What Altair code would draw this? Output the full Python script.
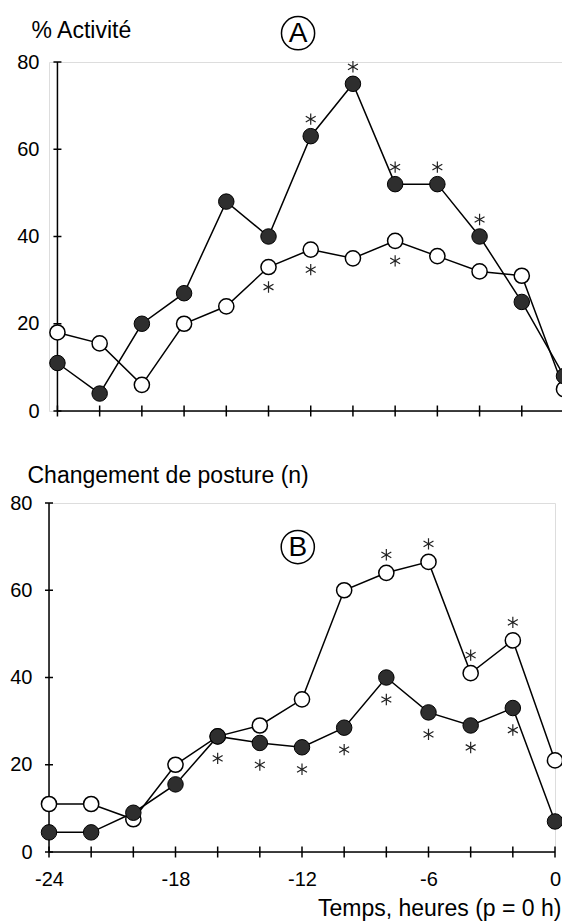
import altair as alt
import pandas as pd

# ---- data ----
hours = [-24, -22, -20, -18, -16, -14, -12, -10, -8, -6, -4, -2, 0]
a_filled = [11, 4, 20, 27, 48, 40, 63, 75, 52, 52, 40, 25, 8]
a_open = [18, 15.5, 6, 20, 24, 33, 37, 35, 39, 35.5, 32, 31, 5]
b_open = [11, 11, 7.5, 20, 26.5, 29, 35, 60, 64, 66.5, 41, 48.5, 21]
b_filled = [4.5, 4.5, 9, 15.5, 26.5, 25, 24, 28.5, 40, 32, 29, 33, 7]

# significance stars (hours)
a_filled_stars = [-12, -10, -8, -6, -4]          # above filled points
a_open_stars = [-14, -12, -8]                    # below open points
b_open_stars = [-8, -6, -4, -2]                  # above open points
b_filled_stars = [-16, -14, -12, -10, -8, -6, -4, -2]  # below filled points

y_ticks = [0, 20, 40, 60, 80]
x_label_values = [-24, -18, -12, -6, 0]

FONT = "Liberation Sans"
STAR = "M0,-1L0,1M-0.87,-0.5L0.87,0.5M-0.87,0.5L0.87,-0.5"


def series_df(vals):
    return pd.DataFrame({"x": hours, "y": vals})


def star_df(vals, star_hours):
    lookup = dict(zip(hours, vals))
    return pd.DataFrame({"x": star_hours, "y": [lookup[h] for h in star_hours]})


def panel(filled, opn, fstars, fdy, ostars, ody, letter, letter_xy,
          xdomain, width, ytitle, ytx, yty, lpad, xaxis):
    xs = alt.Scale(domain=xdomain, nice=False, zero=False)
    ys = alt.Scale(domain=[0, 80], nice=False, zero=False)
    yaxis = alt.Axis(values=y_ticks, domain=False, ticks=False, grid=False,
                     labelFont=FONT, labelFontSize=20, labelColor="black",
                     labelPadding=lpad, labelExpr="datum.value + ''",
                     title=ytitle, titleAngle=0, titleAlign="left",
                     titleBaseline="alphabetic", titleX=ytx, titleY=yty,
                     titleFont=FONT, titleFontSize=23, titleFontWeight="normal",
                     titleColor="black")
    X = alt.X("x:Q", scale=xs, axis=xaxis)
    Y = alt.Y("y:Q", scale=ys, axis=yaxis)
    X2 = alt.X2("x2:Q")
    Y2 = alt.Y2("y2:Q")

    axis_x = alt.Chart(pd.DataFrame({"x": [-24], "x2": [0], "y": [0]})).mark_rule(
        color="black", strokeWidth=1.5).encode(x=X, x2=X2, y=Y)
    axis_y = alt.Chart(pd.DataFrame({"x": [-24], "y": [0], "y2": [80]})).mark_rule(
        color="black", strokeWidth=1.5).encode(x=X, y=Y, y2=Y2)
    xt = alt.Chart(pd.DataFrame({"x": hours, "y": [0] * len(hours)})).mark_tick(
        orient="vertical", size=11, thickness=1.5, color="black", opacity=1).encode(x=X, y=Y)
    yt = alt.Chart(pd.DataFrame({"x": [-24] * len(y_ticks), "y": y_ticks})).mark_tick(
        orient="horizontal", size=8, thickness=1.5, color="black", opacity=1).encode(x=X, y=Y)

    o_line = alt.Chart(series_df(opn)).mark_line(color="black", strokeWidth=1.5).encode(x=X, y=Y)
    o_pts = alt.Chart(series_df(opn)).mark_point(
        shape="circle", size=230, filled=True, fill="white", stroke="black",
        strokeWidth=1.5, opacity=1).encode(x=X, y=Y)
    f_line = alt.Chart(series_df(filled)).mark_line(color="black", strokeWidth=1.5).encode(x=X, y=Y)
    f_pts = alt.Chart(series_df(filled)).mark_point(
        shape="circle", size=240, filled=True, fill="#2e2e2e", stroke="black",
        strokeWidth=1, opacity=1).encode(x=X, y=Y)

    fs = alt.Chart(star_df(filled, fstars)).mark_point(
        shape=STAR, size=130, filled=False, stroke="#222", strokeWidth=1.2,
        opacity=1, yOffset=fdy).encode(x=X, y=Y)
    os_ = alt.Chart(star_df(opn, ostars)).mark_point(
        shape=STAR, size=130, filled=False, stroke="#222", strokeWidth=1.2,
        opacity=1, yOffset=ody).encode(x=X, y=Y)

    ldf = pd.DataFrame({"x": [letter_xy[0]], "y": [letter_xy[1]], "t": [letter]})
    lc = alt.Chart(ldf).mark_point(shape="circle", size=1100, filled=False,
                                   stroke="black", strokeWidth=1.5, opacity=1).encode(x=X, y=Y)
    lt = alt.Chart(ldf).mark_text(font=FONT, fontSize=28, color="black",
                                  baseline="middle", align="center", dy=1).encode(
        x=X, y=Y, text="t:N")

    return alt.layer(axis_x, axis_y, xt, yt, o_line, o_pts, f_line, f_pts,
                     fs, os_, lc, lt).properties(width=width, height=349)


panel_a = panel(a_filled, a_open, a_filled_stars, -17, a_open_stars, 20,
                "A", (-12.6, 86.6), [-24.4, 0], 515,
                "% Activité", -18, -25, 10, None)

xaxis_b = alt.Axis(values=x_label_values, domain=False, ticks=False, grid=False,
                   labelFont=FONT, labelFontSize=20, labelColor="black",
                   labelPadding=17, labelFlush=False, labelExpr="datum.value + ''",
                   title="Temps, heures (p = 0 h)", titleX=512, titleY=63,
                   titleAlign="right", titleBaseline="alphabetic",
                   titleFont=FONT, titleFontSize=23, titleFontWeight="normal",
                   titleColor="black")

panel_b = panel(b_filled, b_open, b_filled_stars, 22, b_open_stars, -18,
                "B", (-12.2, 69.9), [-24, 0], 506,
                "Changement de posture (n)", -22, -21, 17, xaxis_b)

chart = alt.vconcat(panel_a, panel_b, spacing=41).properties(
    padding={"left": 1, "top": 5, "right": -14, "bottom": 0}
).configure_view(stroke=None).configure(background="white")

chart.save("out.html", embed_options={"renderer": "svg", "actions": False})
